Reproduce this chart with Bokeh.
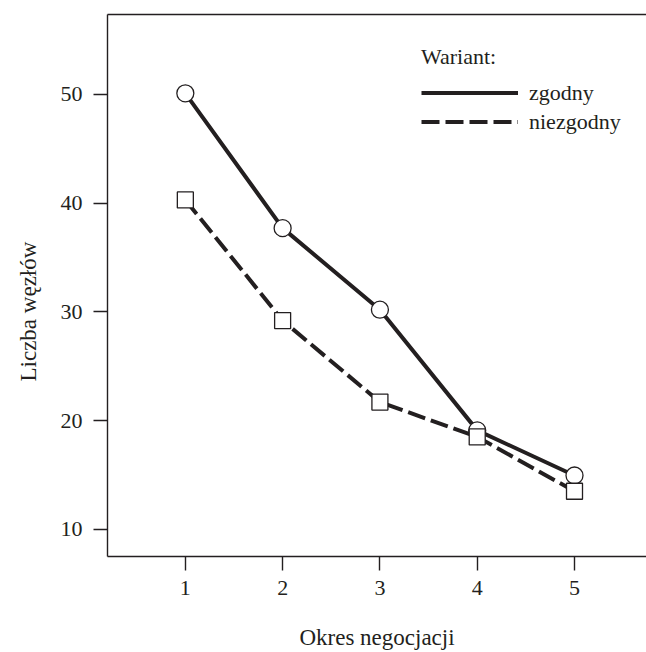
import math
from bokeh.plotting import figure
from bokeh.models import Range1d, LinearAxis, FixedTicker, Legend, LegendItem, Title
from bokeh.embed import file_html
from bokeh.resources import INLINE

periods = [1, 2, 3, 4, 5]
zgodny = [50.1, 37.7, 30.2, 19.1, 14.95]
niezgodny = [40.3, 29.2, 21.7, 18.5, 13.5]
x_ticks = [1, 2, 3, 4, 5]
y_ticks = [10, 20, 30, 40, 50]
series_names = ["zgodny", "niezgodny"]
legend_title = "Wariant:"
x_title = "Okres negocjacji"
y_title = "Liczba węzłów"

INK = "#231f20"
FONT = "Liberation Serif"

p = figure(width=646, height=652, output_backend="svg", toolbar_location=None,
           x_range=Range1d(0.2, 5.74), y_range=Range1d(7.5, 57.35),
           min_border_left=107, min_border_top=14, min_border_right=0, min_border_bottom=95)
p.outline_line_color = None
p.grid.visible = False
p.background_fill_color = "white"

for ax, ticks, standoff in ((p.xaxis[0], x_ticks, 10), (p.yaxis[0], y_ticks, 11)):
    ax.ticker = FixedTicker(ticks=ticks)
    ax.minor_tick_line_color = None
    ax.major_tick_in = 0
    ax.major_tick_out = 14
    ax.major_tick_line_color = INK
    ax.major_tick_line_width = 1.4
    ax.axis_line_color = INK
    ax.axis_line_width = 1.4
    ax.major_label_text_font = FONT
    ax.major_label_text_font_size = "22px"
    ax.major_label_text_color = INK
    ax.major_label_standoff = standoff

p.xaxis[0].axis_label = x_title
p.xaxis[0].axis_label_text_font = FONT
p.xaxis[0].axis_label_text_font_size = "23px"
p.xaxis[0].axis_label_text_font_style = "normal"
p.xaxis[0].axis_label_text_color = INK
p.xaxis[0].axis_label_standoff = 27

top = LinearAxis(ticker=FixedTicker(ticks=[]), major_tick_line_color=None,
                 minor_tick_line_color=None, major_label_text_font_size="0px",
                 major_label_standoff=0, axis_line_color=INK, axis_line_width=1.4)
p.add_layout(top, "above")

ytitle = Title(text=y_title, align="left", offset=175, standoff=29,
               vertical_align="top",
               text_font=FONT, text_font_size="23px", text_font_style="normal",
               text_color=INK)
p.add_layout(ytitle, "left")

r1 = p.line(periods, zgodny, line_color=INK, line_width=4)
r2 = p.line(periods, niezgodny, line_color=INK, line_width=4, line_dash="18 6")
p.scatter(periods, zgodny, marker="circle", size=17, fill_color="white",
          line_color=INK, line_width=1.3)
p.scatter(periods, niezgodny, marker="square", size=16, fill_color="white",
          line_color=INK, line_width=1.3)

legend = Legend(items=[LegendItem(label=series_names[0], renderers=[r1]),
                       LegendItem(label=series_names[1], renderers=[r2])],
                location=(314, 420), title=legend_title,
                title_text_font=FONT, title_text_font_size="22px",
                title_text_font_style="normal", title_text_color=INK,
                title_standoff=8,
                label_text_font=FONT, label_text_font_size="22px", label_text_color=INK,
                glyph_width=97, glyph_height=29, label_standoff=11, spacing=0,
                padding=0, margin=0, border_line_color=None, background_fill_alpha=0)
p.add_layout(legend, "center")

open("out.html", "w").write(file_html(p, INLINE))
